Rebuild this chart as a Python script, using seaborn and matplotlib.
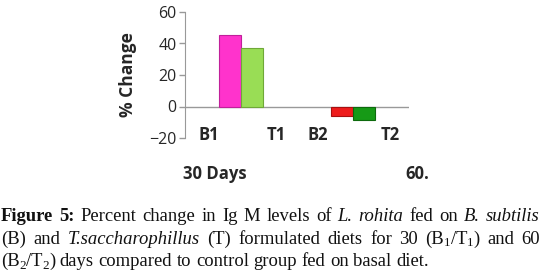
import matplotlib
matplotlib.use("Agg")
import matplotlib.pyplot as plt
import seaborn as sns
import pandas as pd

# Data
periods = ["30 Days", "60 Days"]
diets = ["B", "T"]
bar_labels = ["B1", "T1", "B2", "T2"]
pct_change = [45.5, 37.3, -6.2, -8.3]
bar_colors = ["#ff33cc", "#99dd55", "#ee1c1c", "#169a16"]
edge_colors = ["#c0209a", "#6fa838", "#a81010", "#0d6a0d"]
y_ticks = [-20, 0, 20, 40, 60]

W, H = 541, 278

df = pd.DataFrame({
    "period": [periods[0], periods[0], periods[1], periods[1]],
    "diet": diets * 2,
    "value": pct_change,
})

sns.set_style("white")
plt.rcParams["font.family"] = ["Open Sans", "DejaVu Sans"]

fig = plt.figure(figsize=(W / 100, H / 100), dpi=100)
ax = fig.add_axes([185 / W, 1 - 138 / H, 224 / W, 126 / H])

sns.barplot(data=df, x="period", y="value", hue="diet", order=periods,
            hue_order=diets, width=0.4, dodge=True, legend=False, ax=ax)

# recolour each bar on its own (period-major order)
bars = sorted(ax.patches, key=lambda p: p.get_x())
for p, c, e in zip(bars, bar_colors, edge_colors):
    p.set_facecolor(c)
    p.set_edgecolor(e)
    p.set_linewidth(0.8)

ax.axhline(0, color="#999999", lw=1.0, zorder=0)
ax.set_xlim(-0.5, 1.5)
ax.set_ylim(-20, 60)
ax.set_yticks(y_ticks)
ax.tick_params(axis="y", length=4, width=1, color="#999999", labelsize=11.5,
               pad=2, left=True)
ax.set_ylabel("% Change", fontsize=12.5, fontweight="bold", labelpad=9)
ax.set_xticks([])
ax.set_xlabel("")

for s in ["top", "right", "bottom"]:
    ax.spines[s].set_visible(False)
ax.spines["left"].set_color("#999999")

# category labels (drawn inside the plot area, as in the original)
label_px = [209, 276, 318, 390]
for lbl, px in zip(bar_labels, label_px):
    fig.text(px / W, 1 - 139.5 / H, lbl, fontsize=12, fontweight="bold",
             ha="center", va="baseline")

fig.text(183 / W, 1 - 179 / H, "30 Days", fontsize=12, fontweight="bold",
         va="baseline", ha="left")
fig.text(405 / W, 1 - 179 / H, "60.", fontsize=12, fontweight="bold",
         va="baseline", ha="left")

# caption, justified like the journal text
cap_lines = [
    [[("Figure", "b")], [("5:", "b")], [("Percent", "n")], [("change", "n")],
     [("in", "n")], [("Ig", "n")], [("M", "n")], [("levels", "n")], [("of", "n")],
     [("L.", "i")], [("rohita", "i")], [("fed", "n")], [("on", "n")],
     [("B.", "i")], [("subtilis", "i")]],
    [[("(B)", "n")], [("and", "n")], [("T.saccharophillus", "i")], [("(T)", "n")],
     [("formulated", "n")], [("diets", "n")], [("for", "n")], [("30", "n")],
     [("(B", "n"), ("1", "s"), ("/T", "n"), ("1", "s"), (")", "n")],
     [("and", "n")], [("60", "n")]],
    [[("(B", "n"), ("2", "s"), ("/T", "n"), ("2", "s"), (")", "n")],
     [("days", "n")], [("compared", "n")], [("to", "n")], [("control", "n")],
     [("group", "n")], [("fed", "n")], [("on", "n")], [("basal", "n")],
     [("diet.", "n")]],
]
cap_size = 13.4
baselines = [221, 243.5, 266]
justify = [True, True, False]
left, right = 1, 540

renderer = fig.canvas.get_renderer()


def make_run(txt, style):
    kw = dict(family="Liberation Serif", fontsize=cap_size, va="baseline",
              ha="left", color="#111111")
    if style == "b":
        kw["fontweight"] = "bold"
    elif style == "i":
        kw["style"] = "italic"
    elif style == "s":
        kw["fontsize"] = cap_size * 0.7
    t = fig.text(0, 0, txt, **kw)
    return t, t.get_window_extent(renderer).width


space_w = fig.text(0, 0, "a a", family="Liberation Serif", fontsize=cap_size)
sw = space_w.get_window_extent(renderer).width
tmp = fig.text(0, 0, "aa", family="Liberation Serif", fontsize=cap_size)
sw -= tmp.get_window_extent(renderer).width
space_w.remove()
tmp.remove()

for words, base, just in zip(cap_lines, baselines, justify):
    built = []
    for word in words:
        runs = [make_run(txt, st) + (st,) for txt, st in word]
        built.append(runs)
    widths = [sum(r[1] for r in runs) for runs in built]
    gap = (right - left - sum(widths)) / (len(built) - 1) if just else sw
    x = left
    for runs in built:
        for t, w, st in runs:
            y = base + (3 if st == "s" else 0)
            t.set_position((x / W, 1 - y / H))
            x += w
        x += gap

fig.savefig("out.png", dpi=100)
